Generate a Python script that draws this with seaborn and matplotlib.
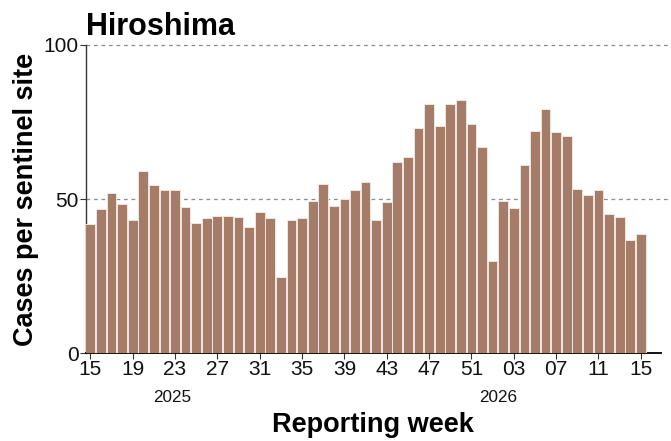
import numpy as np
import pandas as pd
import matplotlib
matplotlib.use("Agg")
import matplotlib.pyplot as plt
import matplotlib.transforms as mtransforms
import seaborn as sns

# Weekly sentinel surveillance, week 15 of 2025 through week 15 of 2026
weeks_2025 = list(range(15, 53))
weeks_2026 = list(range(1, 16))
cases_2025 = [41.8, 46.7, 51.9, 48.3, 43.2, 59.0, 54.6, 53.0, 52.9, 47.5,
              42.2, 43.7, 44.5, 44.6, 44.0, 41.0, 45.7, 43.8, 24.6, 43.1,
              43.8, 49.3, 54.9, 47.8, 50.0, 52.8, 55.5, 43.2, 49.1, 62.1,
              63.7, 73.0, 80.7, 73.6, 80.9, 82.3, 74.2, 67.0]
cases_2026 = [29.9, 49.2, 47.2, 61.1, 72.1, 79.2, 71.7, 70.5, 53.4, 51.3,
              52.9, 45.2, 44.0, 36.7, 38.5]
year_labels = ["2025", "2026"]

week_labels = [f"{w:02d}" for w in weeks_2025 + weeks_2026]
df = pd.DataFrame({
    "pos": np.arange(len(week_labels)),
    "week": week_labels,
    "cases": cases_2025 + cases_2026,
})

sns.set_theme(style="white")
plt.rcParams["font.family"] = ["Liberation Sans", "DejaVu Sans"]

fig = plt.figure(figsize=(6.71, 4.41), dpi=100)
ax = fig.add_axes([0.128, 0.1995, 0.857, 0.6985])

sns.barplot(data=df, x="pos", y="cases", ax=ax, color="#a57c67",
            saturation=1, width=0.92, edgecolor="#f1e6e0", linewidth=0.7,
            zorder=3)

ax.set_xlim(-0.42, 53.9)
ax.set_ylim(0, 100)
ax.set_yticks([0, 50, 100])
ax.set_yticklabels(["0", "50", "100"], fontsize=15, color="#111111")

tick_pos = df["pos"].iloc[::4].tolist()
ax.set_xticks(tick_pos)
ax.set_xticklabels(df["week"].iloc[::4].tolist(), fontsize=15,
                   color="#111111")
ax.tick_params(axis="both", which="major", length=4, width=0.8,
               color="#333333", pad=1, bottom=True, left=True)

for yv in (50, 100):
    ax.axhline(yv, xmin=0, xmax=1.014, color="#8c8c8c",
               linestyle=(0, (3, 3)), linewidth=0.9, zorder=1,
               clip_on=False)

for side in ("top", "right"):
    ax.spines[side].set_visible(False)
ax.spines["left"].set_color("#333333")
ax.spines["left"].set_linewidth(1.0)
ax.spines["bottom"].set_color("#111111")
ax.spines["bottom"].set_linewidth(1.4)

# Year captions under the week ticks
trans = mtransforms.blended_transform_factory(ax.transData, ax.transAxes)
ax.text(7.75, -0.146, year_labels[0], transform=trans, ha="center",
        va="center", fontsize=12.3, color="#111111")
ax.text(38.5, -0.146, year_labels[1], transform=trans, ha="center",
        va="center", fontsize=12.3, color="#111111")

ax.set_xlabel("Reporting week", fontsize=19.5, fontweight="bold",
              color="#000000")
ax.xaxis.set_label_coords(0.5, -0.19)
ax.set_ylabel("Cases per sentinel site", fontsize=19.5, fontweight="bold",
              color="#000000")
ax.yaxis.set_label_coords(-0.082, 0.5)
ax.set_title("Hiroshima", loc="left", fontsize=22, fontweight="bold",
             pad=7, color="#000000")

fig.savefig("out.png", dpi=100)
